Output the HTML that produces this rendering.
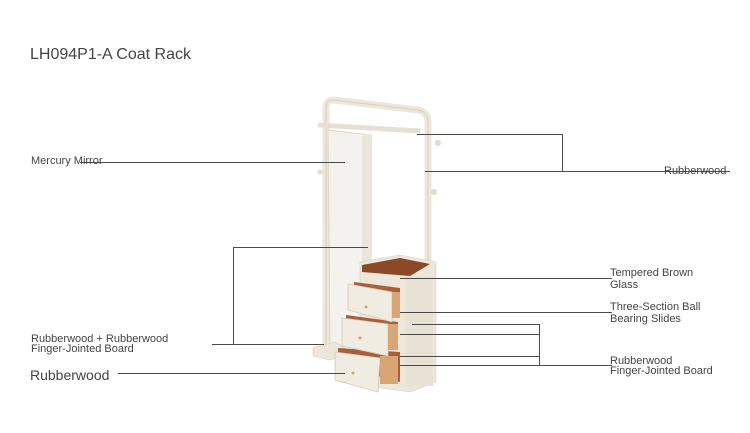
<!DOCTYPE html>
<html><head><meta charset="utf-8"><style>
html,body{margin:0;padding:0;background:#fff;}
svg{display:block;font-family:"Liberation Sans",Arial,sans-serif;}
</style></head><body>
<svg width="750" height="433" viewBox="0 0 750 433" xmlns="http://www.w3.org/2000/svg">
<rect width="750" height="433" fill="#fff"/>
<text x="30" y="59" font-size="16" fill="#444">LH094P1-A Coat Rack</text>

<!-- product -->
<g>
  <!-- back frame -->
  <path d="M326 350 L326 108 Q326 100 334 100 L418 110 Q428 112 428 122 L428 370" fill="none" stroke="#ece7da" stroke-width="7"/>
  <path d="M326 350 L326 108 Q326 100 334 100 L418 110 Q428 112 428 122 L428 370" fill="none" stroke="#d8d1c0" stroke-width="1"/>
  <line x1="318" y1="125" x2="420" y2="131" stroke="#e6e0d2" stroke-width="5"/>
  <circle cx="438" cy="143" r="3" fill="#e2dccd"/>
  <circle cx="434" cy="192" r="3" fill="#e2dccd"/>
  <circle cx="320" cy="172" r="2.5" fill="#e2dccd"/>
  <!-- mirror -->
  <polygon points="328,130 370,135 370,340 330,350" fill="#f4f2ee" stroke="#ddd6c6"/>
  <rect x="362" y="134" width="10" height="210" fill="#ebe6da"/>
  <!-- base -->
  <polygon points="313,348 335,342 352,352 330,360 313,356" fill="#ece7da" stroke="#d8d1c0" stroke-width="0.6"/>
  <!-- cabinet -->
  <polygon points="360,262 400,255 436,262 436,382 410,392 360,385" fill="#ece7da" stroke="#d6cfbd" stroke-width="0.6"/>
  <polygon points="362,265 400,258 430,264 410,276 362,272" fill="#8a4a2a"/>
  <rect x="405" y="276" width="28" height="110" fill="#e8e2d4"/>
  <!-- drawers interior -->
  <polygon points="354,282 400,288 400,318 354,300" fill="#a8603a"/>
  <polygon points="346,315 398,322 398,350 346,333" fill="#a8603a"/>
  <polygon points="338,348 400,352 400,382 338,365" fill="#a8603a"/>
  <!-- drawer fronts -->
  <polygon points="348,284 392,292 392,322 348,310" fill="#f0ece2" stroke="#d2cab8" stroke-width="0.8"/>
  <polygon points="342,318 388,324 388,356 342,346" fill="#f0ece2" stroke="#d2cab8" stroke-width="0.8"/>
  <polygon points="335,352 380,358 378,392 335,380" fill="#f0ece2" stroke="#d2cab8" stroke-width="0.8"/>
  <rect x="392" y="292" width="8" height="26" fill="#d9a574"/>
  <rect x="388" y="324" width="10" height="26" fill="#d9a574"/>
  <rect x="380" y="356" width="18" height="28" fill="#d9a574"/>
  <circle cx="366" cy="307" r="1.5" fill="#c9a860"/>
  <circle cx="360" cy="338" r="1.5" fill="#c9a860"/>
  <circle cx="353" cy="373" r="1.5" fill="#c9a860"/>
</g>

<!-- connectors -->
<g stroke="#4a4a4a" stroke-width="1" fill="none">
  <line x1="80" y1="162.5" x2="345" y2="162.5"/>
  <polyline points="417,134.5 562.5,134.5 562.5,171.5"/>
  <line x1="425" y1="171.5" x2="730" y2="171.5"/>
  <polyline points="368,247.5 233.5,247.5 233.5,344.5"/>
  <line x1="212" y1="344.5" x2="324" y2="344.5"/>
  <line x1="118" y1="373.5" x2="345" y2="373.5"/>
  <line x1="400" y1="278.5" x2="612" y2="278.5"/>
  <line x1="400" y1="312.5" x2="612" y2="312.5"/>
  <polyline points="412,324.5 539.5,324.5 539.5,366"/>
  <line x1="400" y1="334.5" x2="539" y2="334.5"/>
  <line x1="400" y1="356.5" x2="539" y2="356.5"/>
  <line x1="400" y1="365.5" x2="612" y2="365.5"/>
</g>

<g fill="#444" font-size="11">
  <text x="31" y="164">Mercury Mirror</text>
  <text x="664" y="174">Rubberwood</text>
  <text x="31" y="342">Rubberwood + Rubberwood</text>
  <text x="31" y="352">Finger-Jointed Board</text>
  <text x="30" y="380" font-size="14">Rubberwood</text>
  <text x="610" y="276">Tempered Brown</text>
  <text x="610" y="288">Glass</text>
  <text x="610" y="310">Three-Section Ball</text>
  <text x="610" y="322">Bearing Slides</text>
  <text x="610" y="364">Rubberwood</text>
  <text x="610" y="374">Finger-Jointed Board</text>
</g>
</svg>
</body></html>
